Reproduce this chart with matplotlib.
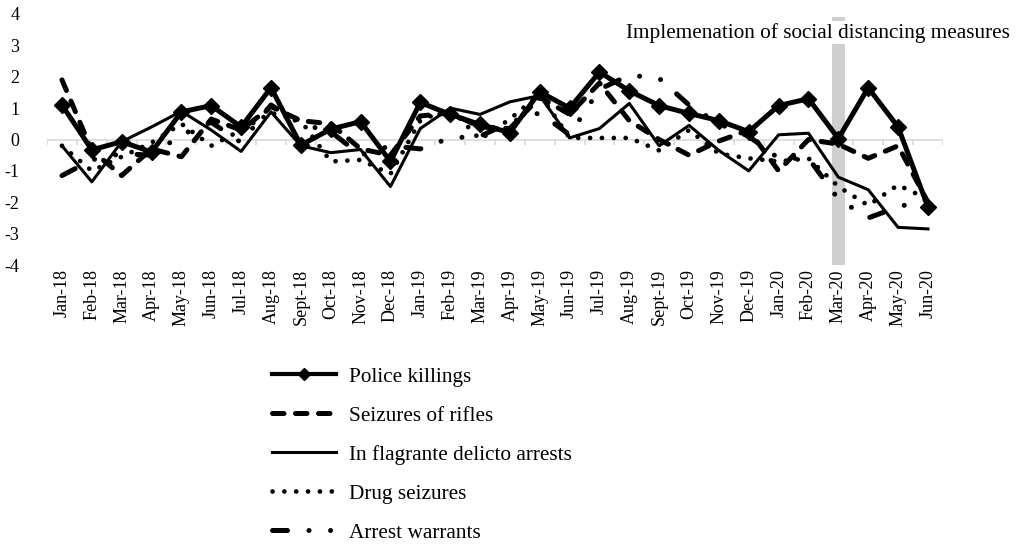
import matplotlib
matplotlib.use("Agg")
import matplotlib.pyplot as plt
import numpy as np

# --- DATA ---
months = [
    "Jan-18", "Feb-18", "Mar-18", "Apr-18", "May-18", "Jun-18", "Jul-18",
    "Aug-18", "Sept-18", "Oct-18", "Nov-18", "Dec-18", "Jan-19", "Feb-19",
    "Mar-19", "Apr-19", "May-19", "Jun-19", "Jul-19", "Aug-19", "Sept-19",
    "Oct-19", "Nov-19", "Dec-19", "Jan-20", "Feb-20", "Mar-20", "Apr-20",
    "May-20", "Jun-20",
]
police_killings = [1.1, -0.33, -0.07, -0.4, 0.88, 1.08, 0.4, 1.65, -0.18, 0.33,
                   0.57, -0.7, 1.18, 0.8, 0.48, 0.22, 1.52, 1.0, 2.15, 1.55,
                   1.08, 0.83, 0.6, 0.25, 1.08, 1.3, 0.03, 1.65, 0.4, -2.15]
rifle_seizures = [1.9, -0.35, -1.15, -0.3, -0.55, 0.65, 0.3, 1.05, 0.6, 0.5,
                  -0.3, -0.5, 0.75, 0.85, 0.4, 0.35, 1.35, 0.8, 1.8, 0.6,
                  0.0, -0.5, -0.05, 0.3, -1.0, 0.0, -0.15, -0.6, -0.2, -2.0]
flagrante_arrests = [-0.2, -1.35, -0.07, 0.4, 0.9, 0.3, -0.38, 0.88, -0.2, -0.42,
                     -0.32, -1.5, 0.35, 1.0, 0.8, 1.2, 1.4, 0.05, 0.35, 1.15,
                     -0.2, 0.45, -0.35, -1.0, 0.15, 0.2, -1.2, -1.6, -2.8, -2.85]
drug_seizures = [-0.2, -1.0, -0.55, -0.1, 0.5, -0.2, 0.3, 0.85, 0.6, -0.7,
                 -0.65, -1.1, 0.6, 1.0, 0.0, 0.65, 1.45, 0.05, 0.05, 0.05,
                 -0.35, 0.3, -0.45, -0.6, -0.7, -0.6, -1.5, -2.1, -1.45, -1.9]
arrest_warrants = [-1.15, -0.65, -0.45, -0.5, 0.15, 0.55, -0.1, 1.1, 0.5, 0.25,
                   -0.5, -0.2, -0.3, 0.05, 0.1, 0.55, 0.85, 0.15, 1.6, 2.05,
                   1.95, 1.1, 0.5, 0.1, -0.6, -0.6, -1.9, -2.5, -2.15, -1.9]
y_ticks = [-4, -3, -2, -1, 0, 1, 2, 3, 4]
event_month = "Mar-20"
event_label = "Implemenation of social distancing measures"

plt.rcParams["font.family"] = ["Liberation Serif", "DejaVu Serif"]
TICK_SIZE = 13
TEXT_SIZE = 15.3

fig = plt.figure(figsize=(10.18, 5.49), dpi=100)
ax = fig.add_axes([0.0462, 0.5173, 0.880, 0.4572])

x = np.arange(len(months))

# shaded bar for the start of social distancing
ev = months.index(event_month)
ax.bar(ev, 7.9, bottom=-4, width=0.45, color="#cfcfcf", zorder=1)

# category axis at zero with small tick marks between categories
ax.axhline(0, color="#d9d9d9", lw=1.2, zorder=0.5)
ax.vlines(np.arange(len(months) + 1) - 0.5, -0.17, 0, color="#d9d9d9",
          lw=1.2, zorder=0.5)

ax.plot(x, police_killings, color="black", lw=3.6, marker="D", ms=8,
        label="Police killings", zorder=5)
ax.plot(x, rifle_seizures, color="black", lw=3.6, dashes=(2.3, 2.3),
        dash_capstyle="round", label="Seizures of rifles", zorder=4)
ax.plot(x, flagrante_arrests, color="black", lw=2.2,
        label="In flagrante delicto arrests", zorder=4)
ax.plot(x, drug_seizures, color="black", lw=3.4, dashes=(0.01, 2.5),
        dash_capstyle="round", label="Drug seizures", zorder=4)
ax.plot(x, arrest_warrants, color="black", lw=3.6,
        dashes=(3.0, 4.3, 0.01, 4.3, 0.01, 4.3),
        dash_capstyle="round", label="Arrest warrants", zorder=4)

ax.text(18.9, 3.4, event_label, fontsize=TEXT_SIZE, va="center", ha="left",
        bbox=dict(facecolor="white", edgecolor="none", pad=1), zorder=3)

ax.set_xlim(-0.5, len(months) - 0.5)
ax.set_ylim(-4, 4)
ax.set_yticks(y_ticks)
ax.set_yticklabels([str(v) for v in y_ticks], fontsize=TICK_SIZE)
ax.set_xticks(x)
ax.set_xticklabels(months, rotation=90, fontsize=TICK_SIZE)
ax.tick_params(axis="both", length=0)
ax.tick_params(axis="y", pad=20)
ax.tick_params(axis="x", pad=3)
for s in ax.spines.values():
    s.set_visible(False)

leg = fig.legend(loc="upper left", bbox_to_anchor=(0.267, 0.332), frameon=False,
                 fontsize=TEXT_SIZE, handlelength=3.0, handletextpad=0.62,
                 labelspacing=0.9, borderaxespad=0, borderpad=0)
leg.legend_handles[0].set_markersize(6)
leg.legend_handles[0].set_linewidth(3.0)

fig.savefig("out.png", dpi=100)
